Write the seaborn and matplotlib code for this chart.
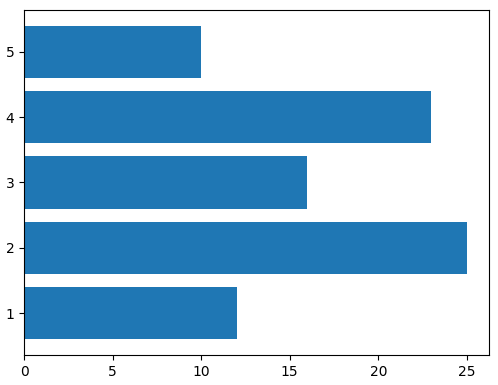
import matplotlib
matplotlib.use("Agg")
import matplotlib.pyplot as plt
import seaborn as sns
import pandas as pd

categories = [1, 2, 3, 4, 5]
values = [12, 25, 16, 23, 10]

df = pd.DataFrame({"cat": categories, "val": values})

fig = plt.figure(figsize=(4.98, 3.85), dpi=100)
ax = fig.add_axes([24/498, 1-355/385, (489-24)/498, (355-10)/385])
sns.barplot(data=df, x="val", y="cat", orient="y", native_scale=True,
            color="#1f77b4", saturation=1, width=0.8, ax=ax)
ax.set_xlim(0, 26.25)
ax.set_ylim(0.36, 5.64)
ax.set_xlabel("")
ax.set_ylabel("")
ax.set_xticks([0, 5, 10, 15, 20, 25])
ax.set_yticks([1, 2, 3, 4, 5])
fig.savefig("out.png", dpi=100)
